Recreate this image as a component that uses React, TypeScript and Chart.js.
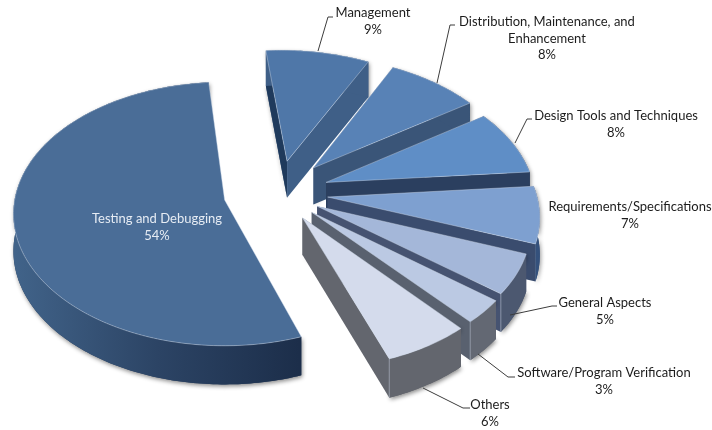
import React, { useEffect, useRef } from "react";
import { Chart, registerables } from "chart.js";

Chart.register(...registerables);

const categories = [
  "Management",
  "Distribution, Maintenance, and Enhancement",
  "Design Tools and Techniques",
  "Requirements/Specifications",
  "General Aspects",
  "Software/Program Verification",
  "Others",
  "Testing and Debugging",
];
const shares = [9, 8, 8, 7, 5, 3, 6, 54];

const topColors = ["#4f77a8", "#5882b6", "#5f8ec6", "#7ea0d0", "#a4b7d9", "#bbc9e3", "#d4dbec", "#4a6d97"];
const startWallColors = ["#1f3a5c", "#3a5578", "#2b3f5f", "#3a4c6e", "#465371", "#59616f", "#63666e", "#2a4060"];
const endWallColors = ["#3f5f87", "#3a5578", "#2b3f5f", "#3a4c6e", "#465371", "#59616f", "#63666e", "#2a4060"];
const outerWallColors = ["#3f5f87", "#3a5578", "#2b3f5f", "#34517c", "#4c5870", "#636873", "#63666e", "#2a4060"];
const explode = [54, 56, 52, 50, 44, 45, 46, 55];

const labelLines = [
  ["Management", "9%"],
  ["Distribution, Maintenance, and", "Enhancement", "8%"],
  ["Design Tools and Techniques", "8%"],
  ["Requirements/Specifications", "7%"],
  ["General Aspects", "5%"],
  ["Software/Program Verification", "3%"],
  ["Others", "6%"],
  ["Testing and Debugging", "54%"],
];
const labelAnchors = [
  [373, 13],
  [547, 22],
  [616, 116],
  [630, 207],
  [605, 303],
  [604, 373],
  [490, 405],
  [157, 219],
];
const leaders = [
  [[333, 17], [328, 17], [318, 51]],
  [[455, 25], [450, 25], [437, 83]],
  [[532, 119], [527, 119], [515, 143]],
  null,
  [[557, 306], [552, 306], [510, 315]],
  [[515, 377], [508, 377], [478, 354]],
  [[470, 408], [463, 408], [423, 388]],
  null,
];

const VIEW = { ox: 225, oy: 200, cx: 53.4, cy: -11.6, p: 0.000505, k: 0.621 };

function project(X: number, Y: number, z: number) {
  const wy = Y + VIEW.cy;
  const s = 1 / (1 - VIEW.p * wy);
  return {
    x: VIEW.ox + (X + VIEW.cx) * s,
    y: VIEW.oy + VIEW.k * wy * s + z * (23 + 14 * s),
  };
}

function trace(ctx: CanvasRenderingContext2D, pts: { x: number; y: number }[]) {
  ctx.beginPath();
  pts.forEach((q, i) => (i ? ctx.lineTo(q.x, q.y) : ctx.moveTo(q.x, q.y)));
  ctx.closePath();
}

const pie3d = {
  id: "pie3d",
  beforeDatasetsDraw(chart: any) {
    const ctx: CanvasRenderingContext2D = chart.ctx;
    const arcs = chart.getDatasetMeta(0).data;
    const order = [7, 0, 1, 2, 3, 4, 5, 6];
    for (const i of order) {
      const a = arcs[i];
      const off = a.options.offset;
      const mid = (a.startAngle + a.endAngle) / 2;
      const ax = off * Math.cos(mid);
      const ay = off * Math.sin(mid);
      const R = a.outerRadius;
      const steps = Math.max(8, Math.ceil(((a.endAngle - a.startAngle) * 180) / Math.PI));
      const rim: [number, number][] = [];
      for (let n = 0; n <= steps; n++) {
        const t = a.startAngle + ((a.endAngle - a.startAngle) * n) / steps;
        rim.push([ax + R * Math.cos(t), ay + R * Math.sin(t)]);
      }
      const topRim = rim.map(([x, y]) => project(x, y, 0));
      const lowRim = rim.map(([x, y]) => project(x, y, 1));
      const apexT = project(ax, ay, 0);
      const apexB = project(ax, ay, 1);

      ctx.save();
      // soft drop shadow under the whole solid
      ctx.shadowColor = "rgba(0,0,0,0.45)";
      ctx.shadowBlur = 4;
      ctx.shadowOffsetX = 1;
      ctx.shadowOffsetY = 2;
      if (i === 7) {
        trace(ctx, [...topRim, ...[...lowRim].reverse()]);
      } else {
        trace(ctx, [apexB, ...lowRim, ...[...topRim].reverse()]);
      }
      ctx.fillStyle = outerWallColors[i];
      ctx.fill();
      ctx.shadowColor = "transparent";

      // side walls
      if (i !== 7) {
        trace(ctx, [apexT, topRim[0], lowRim[0], apexB]);
        ctx.fillStyle = startWallColors[i];
        ctx.fill();
        trace(ctx, [apexT, topRim[steps], lowRim[steps], apexB]);
        ctx.fillStyle = endWallColors[i];
        ctx.fill();
      }

      // outer wall
      trace(ctx, [...topRim, ...[...lowRim].reverse()]);
      if (i === 7) {
        const g = ctx.createLinearGradient(15, 0, 299, 0);
        g.addColorStop(0, "#416389");
        g.addColorStop(0.5, "#2c4465");
        g.addColorStop(1, "#1c2e4a");
        ctx.fillStyle = g;
      } else {
        ctx.fillStyle = outerWallColors[i];
      }
      ctx.fill();

      // pale vertical edge at the front corner of the lower slices
      if (i >= 4 && i <= 6) {
        ctx.beginPath();
        ctx.moveTo(topRim[steps].x, topRim[steps].y);
        ctx.lineTo(lowRim[steps].x, lowRim[steps].y);
        ctx.strokeStyle = "rgba(205,215,232,0.55)";
        ctx.lineWidth = 0.8;
        ctx.stroke();
      }

      // top face
      trace(ctx, [apexT, ...topRim]);
      ctx.fillStyle = a.options.backgroundColor;
      ctx.fill();
      ctx.strokeStyle = "rgba(205,215,232,0.55)";
      ctx.lineWidth = 0.8;
      ctx.stroke();
      ctx.restore();
    }

    // leader lines
    ctx.save();
    ctx.strokeStyle = "#3c3c3c";
    ctx.lineWidth = 1;
    leaders.forEach((line) => {
      if (!line) return;
      ctx.beginPath();
      line.forEach(([x, y], n) => (n ? ctx.lineTo(x, y) : ctx.moveTo(x, y)));
      ctx.stroke();
    });
    ctx.restore();

    // labels
    ctx.save();
    ctx.font = "13px Lato";
    ctx.textAlign = "center";
    ctx.textBaseline = "middle";
    labelLines.forEach((lines, i) => {
      const [x, y] = labelAnchors[i];
      ctx.fillStyle = i === 7 ? "#e6ecf4" : "#1c1c1c";
      lines.forEach((txt, n) => ctx.fillText(txt, x, y + n * 16.5));
    });
    ctx.restore();
    return false;
  },
};

export default function App() {
  const ref = useRef<HTMLCanvasElement>(null);
  useEffect(() => {
    const chart = new Chart(ref.current!, {
      type: "pie",
      data: {
        labels: categories,
        datasets: [{ data: shares, backgroundColor: topColors, offset: explode, borderWidth: 0 }],
      },
      options: {
        animation: false,
        responsive: false,
        rotation: -4.8,
        radius: 210,
        plugins: { legend: { display: false }, tooltip: { enabled: false } },
      },
      plugins: [pie3d],
    } as any);
    return () => chart.destroy();
  }, []);
  return (
    <div style={{ position: "absolute", left: 0, top: 0, width: 712, height: 430, background: "#fff" }}>
      <canvas ref={ref} width={712} height={430} style={{ display: "block" }} />
    </div>
  );
}
